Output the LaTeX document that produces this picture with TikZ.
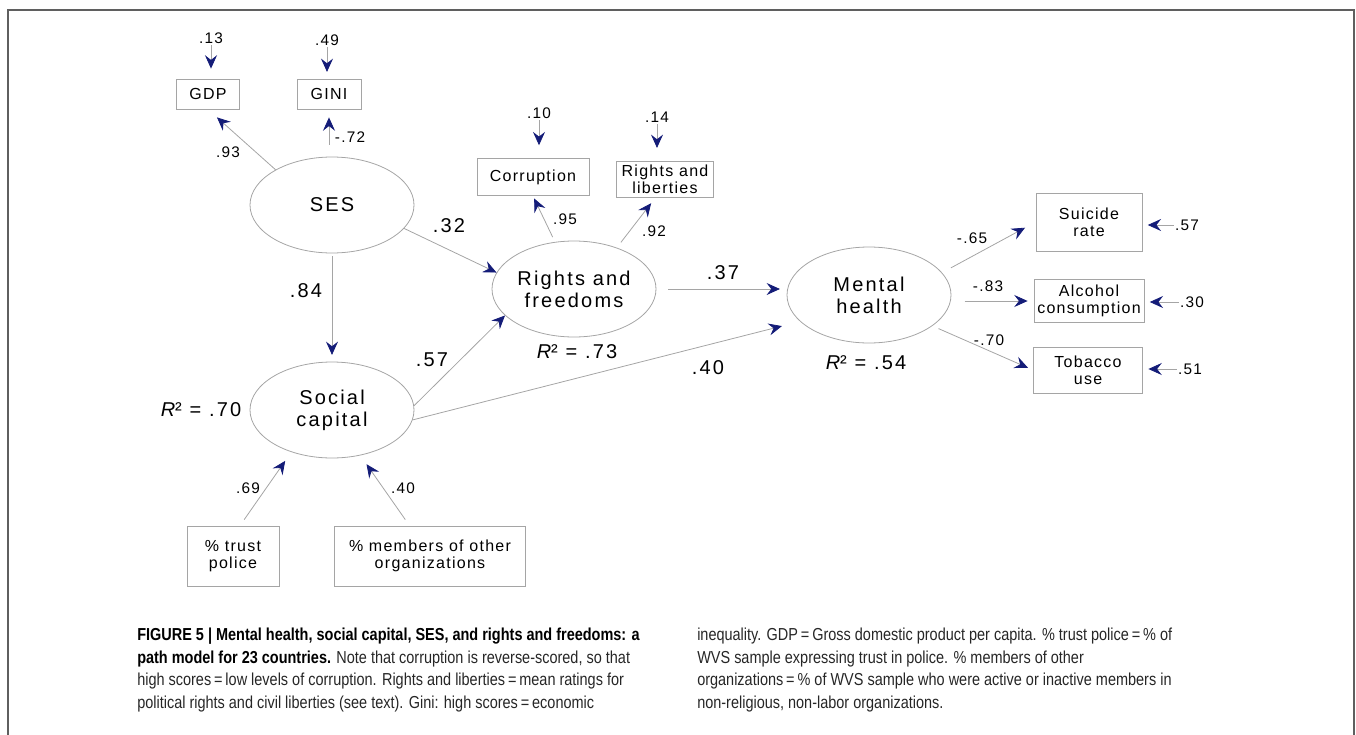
\documentclass[tikz,border=0pt]{standalone}
\usepackage{fontspec}
\setmainfont{Liberation Sans}
\newfontfamily\diagfont[LetterSpace=8]{Liberation Sans}
\newfontfamily\diagbigfont[LetterSpace=11]{Liberation Sans}
\newfontfamily\capfont[FakeStretch=0.835]{Liberation Sans}
\usetikzlibrary{arrows.meta,positioning,shapes.geometric}
\definecolor{tipblue}{RGB}{20,28,120}
\definecolor{linegray}{RGB}{165,165,165}
\definecolor{framegray}{RGB}{95,95,95}

\begin{document}
\begin{tikzpicture}[
  x=0.75pt, y=-0.75pt,
  font=\diagfont\fontsize{11.5}{13}\selectfont,
  latent/.style={ellipse, draw=linegray, line width=0.6pt, align=center, inner sep=0pt,
    minimum width=123pt, minimum height=72pt,
    font=\diagbigfont\fontsize{15}{16.5}\selectfont},
  obs/.style={draw=linegray, line width=0.6pt, align=center, inner sep=0pt,
    font=\diagfont\fontsize{12}{12.75}\selectfont},
  arr/.style={draw=linegray, line width=0.6pt,
    -{Stealth[length=10pt, width=9pt, inset=3.5pt, color=tipblue]}},
  coef/.style={inner sep=1pt},
  bigcoef/.style={inner sep=1pt, font=\diagbigfont\fontsize{15}{16}\selectfont},
  captext/.style={align=left, anchor=north west, inner sep=0pt, text=black!85,
    font=\capfont\fontsize{13}{16.9}\selectfont}
]
\useasboundingbox (0,0) rectangle (1356,735);
\draw[framegray, line width=1.5pt] (8,745) -- (8,10) -- (1354,10) -- (1354,745);

\node[latent] (ses) at (332,205) {SES};
\node[latent] (sc) at (332,410) {Social\\capital};
\node[latent] (rf) at (574,289) {Rights and\\freedoms};
\node[latent] (mh) at (869,295) {Mental\\health};

\node[obs, minimum width=47pt, minimum height=22.5pt] (gdp) at (208,94) {GDP};
\node[obs, minimum width=48pt, minimum height=22.5pt] (gini) at (329,94) {GINI};
\node[obs, minimum width=84pt, minimum height=28pt] (corr) at (533,177) {Corruption};
\node[obs, minimum width=73pt, minimum height=27pt] (rl) at (665,179) {Rights and\\liberties};
\node[obs, minimum width=79.5pt, minimum height=43.5pt] (suicide) at (1089,222) {Suicide\\rate};
\node[obs, minimum width=82.5pt, minimum height=32pt] (alcohol) at (1089,301) {Alcohol\\consumption};
\node[obs, minimum width=82pt, minimum height=34.5pt] (tobacco) at (1088,370) {Tobacco\\use};
\node[obs, minimum width=69pt, minimum height=45pt] (trust) at (233,556) {\%~trust\\police};
\node[obs, minimum width=143pt, minimum height=45pt] (members) at (430,556) {\%~members of other\\organizations};

\node[coef] (e13) at (211,38) {.13};
\node[coef] (e49) at (327,40) {.49};
\node[coef] (e10) at (539,113) {.10};
\node[coef] (e14) at (657,117) {.14};
\node[coef] (e57) at (1187,225) {.57};
\node[coef] (e30) at (1192,302) {.30};
\node[coef] (e51) at (1190,369) {.51};

\draw[arr, shorten >=7.5pt] (e13) -- (e13 |- gdp.north);
\draw[arr, shorten >=5pt] (e49) -- (e49 |- gini.north);
\draw[arr, shorten >=9.5pt] (e10) -- (e10 |- corr.north);
\draw[arr, shorten >=9.5pt] (e14) -- (e14 |- rl.north);
\draw[arr, shorten >=4pt] (e57) -- (e57 -| suicide.east);
\draw[arr, shorten >=4pt] (e30) -- (e30 -| alcohol.east);
\draw[arr, shorten >=4pt] (e51) -- (e51 -| tobacco.east);

\draw[arr, shorten >=9pt] (ses.148) -- (gdp.south);
\draw[arr, shorten <=9pt, shorten >=6pt] (gini.south |- ses.north) -- (gini.south);
\draw[arr, shorten <=2pt, shorten >=5pt] (ses) -- (sc);
\draw[arr] (ses.-18) -- (rf.168);
\draw[arr] (sc.3) -- (rf.201);
\draw[arr, shorten >=14pt] (sc.-7) -- (mh.201);
\draw[arr, shorten <=9pt, shorten >=5pt] (rf.east) -- (mh.west |- rf.east);
\draw[arr, shorten <=4pt, shorten >=2pt] (rf.112) -- (corr.south);
\draw[arr, shorten <=5pt, shorten >=5.5pt] (rf.44) -- (rl.243);
\draw[arr, shorten <=7.5pt, shorten >=9pt] (mh.17) -- (suicide.west);
\draw[arr, shorten <=10pt, shorten >=4.5pt] (mh.east |- alcohol.west) -- (alcohol.west);
\draw[arr, shorten <=5pt, shorten >=4pt] (mh.-26) -- (tobacco.west);
\draw[arr, shorten <=5.5pt, shorten >=8pt] (trust.77) -- (sc.226);
\draw[arr, shorten <=5.5pt, shorten >=8pt] (members.124) -- (sc.302);

\node[coef] (p93) at (228,152) {.93};
\node[coef] (p72) at (350,137) {-.72};
\node[bigcoef] (p84) at (306,291) {.84};
\node[bigcoef] (p32) at (449,226) {.32};
\node[bigcoef] (p57) at (432,360) {.57};
\node[bigcoef] (p40) at (708,368) {.40};
\node[bigcoef] (p37) at (723,273) {.37};
\node[coef] (p95) at (565,219) {.95};
\node[coef] (p92) at (654,231) {.92};
\node[coef] (p65) at (972,238) {-.65};
\node[coef] (p83) at (988,286) {-.83};
\node[coef] (p70) at (989,340) {-.70};
\node[coef] (p69) at (248,488) {.69};
\node[coef] (p40b) at (403,488) {.40};

\node[bigcoef] (r2sc) at (201,410) {\itshape R\upshape ² = .70};
\node[bigcoef] (r2rf) at (577,352) {\itshape R\upshape ² = .73};
\node[bigcoef] (r2mh) at (866,363) {\itshape R\upshape ² = .54};

\node[captext] (capleft) at (137,628)
  {\textbf{\color{black}FIGURE 5 | Mental health, social capital, SES, and rights and freedoms: a}\\
   \textbf{\color{black}path model for 23 countries.} Note that corruption is reverse-scored, so that\\
   high scores\,=\,low levels of corruption. Rights and liberties\,=\,mean ratings for\\
   political rights and civil liberties (see text). Gini: high scores\,=\,economic};
\node[captext] (capright) at (697,628)
  {inequality. GDP\,=\,Gross domestic product per capita. \% trust police\,=\,\% of\\
   WVS sample expressing trust in police. \% members of other\\
   organizations\,=\,\% of WVS sample who were active or inactive members in\\
   non-religious, non-labor organizations.};

\end{tikzpicture}
\end{document}
